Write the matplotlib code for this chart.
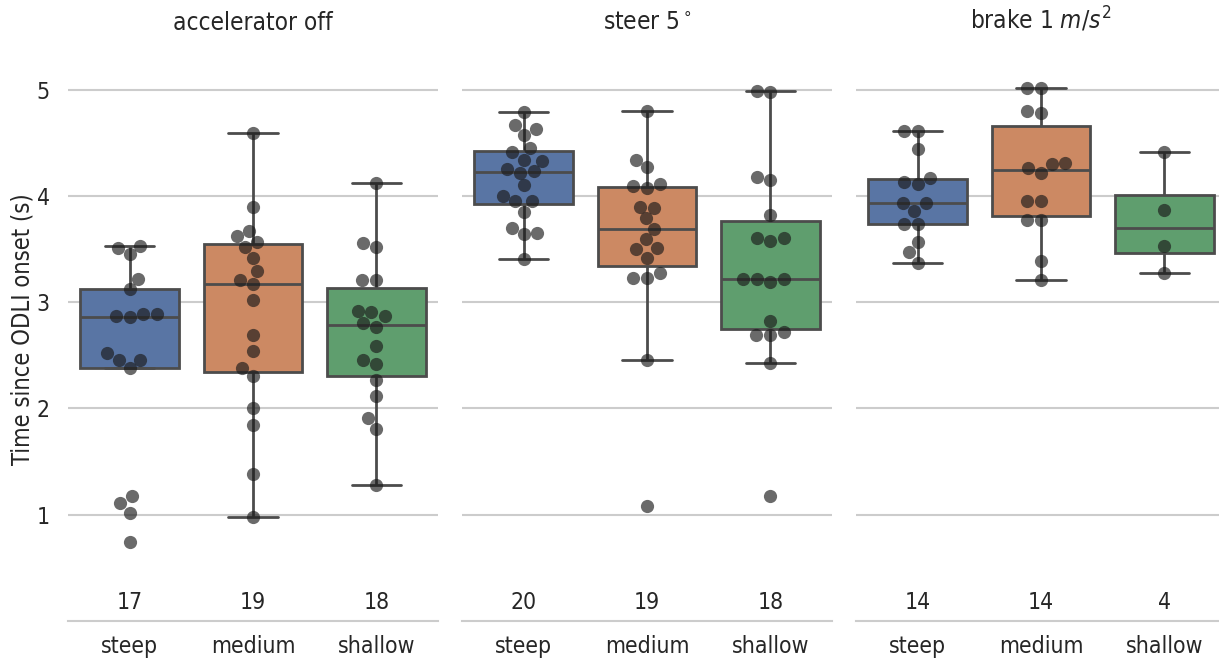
import colorsys
import matplotlib
matplotlib.use('Agg')
import matplotlib.pyplot as plt
import pandas as pd
import seaborn as sns

# categories
slopes = ['steep', 'medium', 'shallow']
conditions = ['accelerator off', 'steer 5$^\\circ$', 'brake 1 $m/s^2$']

# time since ODLI onset (s)
acc_steep = [3.51, 3.53, 3.45, 3.22, 3.12, 2.87, 2.89, 2.89, 2.86, 2.52,
             2.46, 2.46, 2.38, 1.18, 1.11, 1.02, 0.74]
acc_medium = [4.59, 3.90, 3.67, 3.62, 3.57, 3.52, 3.42, 3.29, 3.21, 3.17,
              3.02, 2.69, 2.54, 2.38, 2.31, 2.00, 1.84, 1.38, 0.98]
acc_shallow = [4.12, 3.56, 3.52, 3.21, 3.21, 2.92, 2.91, 2.87, 2.80, 2.77,
               2.59, 2.46, 2.42, 2.27, 2.12, 1.91, 1.81, 1.28]

steer_steep = [4.79, 4.67, 4.63, 4.57, 4.45, 4.41, 4.34, 4.33, 4.25, 4.23,
               4.22, 4.10, 4.00, 3.95, 3.95, 3.85, 3.70, 3.65, 3.64, 3.41]
steer_medium = [4.80, 4.34, 4.27, 4.09, 4.07, 4.11, 3.90, 3.89, 3.79, 3.69,
                3.59, 3.51, 3.50, 3.42, 3.27, 3.23, 3.23, 2.46, 1.08]
steer_shallow = [4.99, 4.98, 4.18, 4.15, 3.82, 3.60, 3.58, 3.60, 3.22, 3.22,
                 3.22, 3.19, 2.82, 2.72, 2.69, 2.69, 2.43, 1.18]

brake_steep = [4.61, 4.61, 4.44, 4.17, 4.13, 4.11, 3.93, 3.93, 3.86, 3.74,
               3.74, 3.57, 3.47, 3.37]
brake_medium = [5.02, 5.02, 4.80, 4.78, 4.31, 4.30, 4.26, 4.22, 3.95, 3.95,
                3.77, 3.77, 3.39, 3.21]
brake_shallow = [4.41, 3.87, 3.53, 3.27]

groups = [[acc_steep, acc_medium, acc_shallow],
          [steer_steep, steer_medium, steer_shallow],
          [brake_steep, brake_medium, brake_shallow]]

sns.set_theme(style='whitegrid')
plt.rcParams['font.family'] = ['DejaVu Sans']
plt.rcParams['font.stretch'] = 'condensed'

deep = sns.color_palette('deep')[:3]

fig = plt.figure(figsize=(12.19, 6.58), dpi=100)
W, H = 1219, 658
lefts = [68, 462, 856]

for k, (cond, grp) in enumerate(zip(conditions, groups)):
    ax = fig.add_axes([lefts[k] / W, 37 / H, 370 / W, 584.5 / H])
    rows = []
    for s, vals in zip(slopes, grp):
        for v in vals:
            rows.append((s, v))
    df = pd.DataFrame(rows, columns=['slope', 't'])

    sns.boxplot(data=df, x='slope', y='t', order=slopes, hue='slope',
                hue_order=slopes, palette=deep, legend=False, width=0.8,
                showfliers=False, linewidth=2.0, ax=ax)
    sns.swarmplot(data=df, x='slope', y='t', order=slopes, color='k',
                  alpha=0.65, size=9.5, ax=ax)

    # group sizes above the x axis
    for i, vals in enumerate(grp):
        ax.text(i, 0.17, str(len(vals)), ha='center', va='center', fontsize=16.5)

    ax.set_ylim(0, 5.5)
    ax.set_xlim(-0.5, 2.5)
    ax.set_yticks([1, 2, 3, 4, 5])
    ax.yaxis.grid(True, color='#cccccc', lw=1.5)
    ax.xaxis.grid(False)
    sns.despine(ax=ax, left=True)
    ax.spines['bottom'].set_color('#cccccc')
    ax.spines['bottom'].set_linewidth(1.5)
    ax.tick_params(axis='x', length=0, pad=10, labelsize=16.5)
    ax.tick_params(axis='y', length=0, pad=13, labelsize=16.5)
    ax.set_xlabel('')
    ax.set_title(cond, fontsize=17.5, pad=5)
    if k == 0:
        ax.set_ylabel('Time since ODLI onset (s)', fontsize=17, labelpad=2)
    else:
        ax.set_ylabel('')
        ax.tick_params(axis='y', labelleft=False)

fig.savefig('out.png', dpi=100)
